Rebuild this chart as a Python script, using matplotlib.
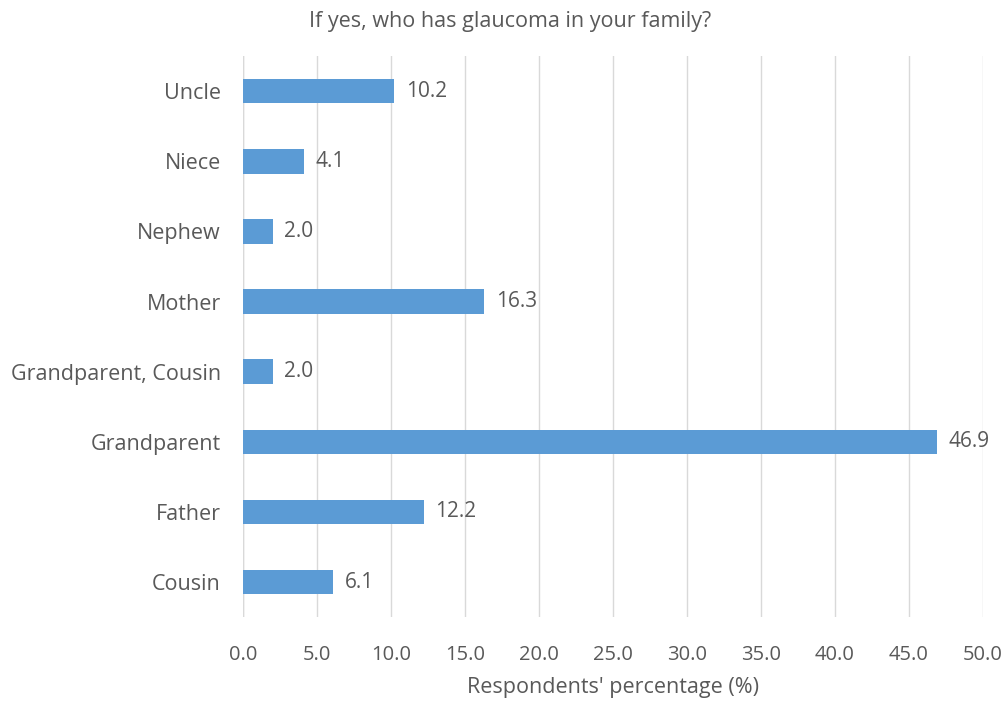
import matplotlib
matplotlib.use('Agg')
import matplotlib.pyplot as plt
import numpy as np

plt.rcParams['font.family'] = ['Open Sans', 'DejaVu Sans']

categories = ['Cousin', 'Father', 'Grandparent', 'Grandparent, Cousin',
              'Mother', 'Nephew', 'Niece', 'Uncle']
percentages = [6.1, 12.2, 46.9, 2.0, 16.3, 2.0, 4.1, 10.2]
xticks = [0, 5, 10, 15, 20, 25, 30, 35, 40, 45, 50]

text_color = '#595959'
bar_color = '#5B9BD5'

fig = plt.figure(figsize=(10.03, 7.02), dpi=100)
ax = fig.add_axes([0.2423, 0.121, 0.7377, 0.799])

y = np.arange(len(categories))
ax.barh(y, percentages, height=0.35, color=bar_color, zorder=3)

for yi, v in zip(y, percentages):
    ax.text(v + 0.8, yi, f'{v:.1f}', va='center', ha='left',
            fontsize=15, color=text_color)

ax.set_xlim(0, 50)
ax.set_ylim(-0.5, len(categories) - 0.5)
ax.set_xticks(xticks)
ax.set_xticklabels([f'{t:.1f}' for t in xticks])
ax.set_yticks(y)
ax.set_yticklabels(categories)
ax.tick_params(axis='both', length=0, colors=text_color)
ax.tick_params(axis='x', pad=20, labelsize=14.5)
ax.tick_params(axis='y', pad=16, labelsize=15.5)

ax.grid(axis='x', color='#D9D9D9', linewidth=1, zorder=0)
for s in ax.spines.values():
    s.set_visible(False)
ax.axvline(0, color='#D9D9D9', linewidth=1, zorder=1)

ax.set_xlabel("Respondents' percentage (%)", fontsize=15.5, color=text_color, labelpad=9)
fig.text(0.5085, 0.970, 'If yes, who has glaucoma in your family?',
         ha='center', va='center', fontsize=15.5, color=text_color)

fig.savefig('out.png', dpi=100)
